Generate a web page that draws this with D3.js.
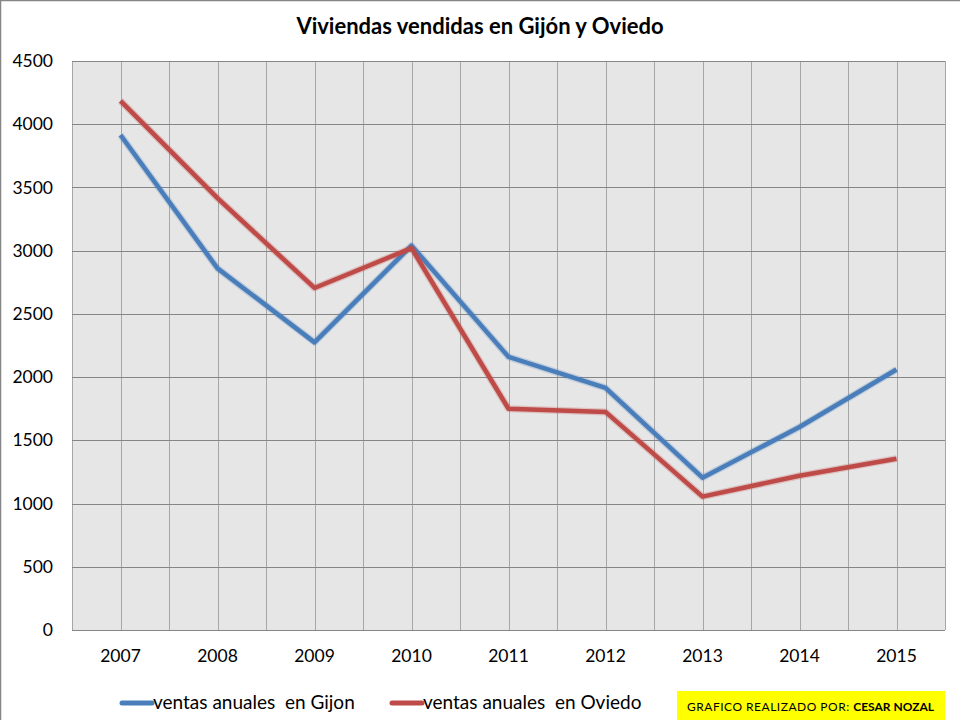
<!DOCTYPE html>
<html><head><meta charset="utf-8">
<script src="https://cdn.jsdelivr.net/npm/d3@7"></script>
<style>body{margin:0;background:#fff;} svg{display:block;font-family:Lato,"Open Sans",sans-serif;}</style>
</head><body>
<svg id="c" width="960" height="720"></svg>
<script>
const years = ["2007","2008","2009","2010","2011","2012","2013","2014","2015"];
const gijon = [3915, 2860, 2275, 3040, 2160, 1915, 1205, 1605, 2060];
const oviedo = [4185, 3415, 2705, 3020, 1750, 1725, 1055, 1220, 1355];
const yTicks = [0,500,1000,1500,2000,2500,3000,3500,4000,4500];
const seriesNames = ["ventas anuales  en Gijon", "ventas anuales  en Oviedo"];
const colors = ["#4a7ebb", "#be4b48"];

const svg = d3.select("#c");
const L=72, R=945, T=61, B=630;
const x = d3.scaleBand().domain(years).range([L,R]);
const y = d3.scaleLinear().domain([0,4500]).range([B,T]);

// frame
svg.append("rect").attr("x",0.5).attr("y",0.5).attr("width",970).attr("height",730)
  .attr("fill","none").attr("stroke","#868686").attr("stroke-width",1.5);

svg.append("text").attr("x",480).attr("y",34).attr("text-anchor","middle")
  .attr("font-size",22).attr("font-weight","bold").attr("fill","#000")
  .text("Viviendas vendidas en Gijón y Oviedo");

svg.append("rect").attr("x",L).attr("y",T).attr("width",R-L).attr("height",B-T).attr("fill","#e6e6e6");

// vertical gridlines at centers and boundaries
const vlines = [];
years.forEach(d=>{vlines.push(x(d)); vlines.push(x(d)+x.bandwidth()/2);});
svg.append("g").selectAll("line").data(vlines).join("line")
  .attr("x1",d=>Math.round(d)+0.5).attr("x2",d=>Math.round(d)+0.5).attr("y1",T).attr("y2",B)
  .attr("stroke","#a6a6a6").attr("stroke-width",1);
svg.append("line").attr("x1",R+0.5).attr("x2",R+0.5).attr("y1",T).attr("y2",B).attr("stroke","#a6a6a6");

// horizontal gridlines
svg.append("g").selectAll("line").data(yTicks).join("line")
  .attr("x1",L).attr("x2",R).attr("y1",d=>Math.round(y(d))+0.5).attr("y2",d=>Math.round(y(d))+0.5)
  .attr("stroke","#868686").attr("stroke-width",1.2);

// y labels
const ya = svg.append("g").attr("transform",`translate(${L},0)`)
  .call(d3.axisLeft(y).tickValues(yTicks).tickSize(0).tickPadding(19).tickFormat(d3.format("d")));
ya.select(".domain").remove();
ya.selectAll("text").attr("font-size",17.5).attr("fill","#000").attr("font-family","Lato,'Open Sans',sans-serif");

// x labels
const xa = svg.append("g").attr("transform",`translate(0,${B})`)
  .call(d3.axisBottom(x).tickSize(0).tickPadding(20));
xa.select(".domain").remove();
xa.selectAll("text").attr("font-size",17.5).attr("fill","#000").attr("font-family","Lato,'Open Sans',sans-serif");

const line = d3.line().x((d,i)=>x(years[i])+x.bandwidth()/2).y(d=>y(d));
[gijon, oviedo].forEach((s,i)=>{
  svg.append("path").datum(s).attr("d",line).attr("fill","none")
    .attr("stroke",colors[i]).attr("stroke-opacity",0.25).attr("stroke-width",7).attr("stroke-linejoin","round");
  svg.append("path").datum(s).attr("d",line).attr("fill","none")
    .attr("stroke",colors[i]).attr("stroke-width",4.5).attr("stroke-linejoin","round");
});

// legend
const legX = [122, 392];
seriesNames.forEach((n,i)=>{
  svg.append("line").attr("x1",legX[i]).attr("x2",legX[i]+30).attr("y1",703).attr("y2",703)
    .attr("stroke",colors[i]).attr("stroke-width",5).attr("stroke-linecap","round");
  svg.append("text").attr("x",legX[i]+31).attr("y",709).attr("font-size",19).attr("fill","#000")
    .attr("xml:space","preserve").style("white-space","pre").text(n);
});

// credit box
svg.append("rect").attr("x",677).attr("y",691).attr("width",268).attr("height",29).attr("fill","#ffff00");
const t = svg.append("text").attr("x",687).attr("y",711).attr("font-size",12).attr("fill","#000").attr("letter-spacing",0.5);
t.append("tspan").text("GRAFICO REALIZADO POR: ");
t.append("tspan").attr("font-weight","bold").attr("letter-spacing",0).text("CESAR NOZAL");
</script>
</body></html>
